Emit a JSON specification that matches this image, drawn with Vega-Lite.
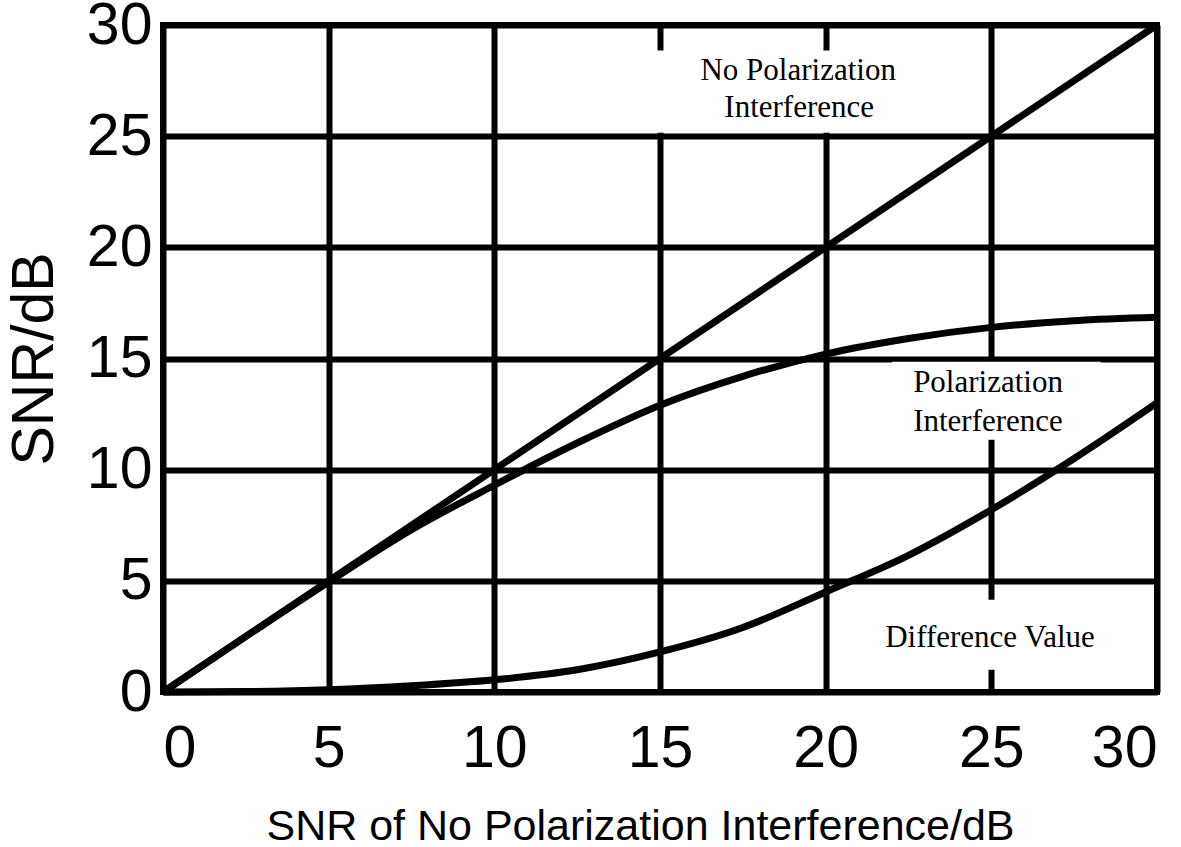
{
  "$schema": "https://vega.github.io/schema/vega-lite/v6.json",
  "autosize": "none",
  "width": 994,
  "height": 667,
  "padding": {"left": 163, "top": 25, "right": 24, "bottom": 155},
  "background": "white",
  "config": {
    "view": {"stroke": "black", "strokeWidth": 6},
    "axis": {
      "grid": true, "gridColor": "black", "gridWidth": 6, "gridOpacity": 1,
      "domain": false, "ticks": false, "tickSize": 0,
      "labelFont": "Liberation Sans", "labelFontSize": 59, "labelColor": "black",
      "titleFont": "Liberation Sans", "titleColor": "black", "titleFontWeight": "normal"
    }
  },
  "datasets": {
    "curves": [
      {"snr": 0, "value": 0, "series": "No Polarization Interference"},
      {"snr": 30, "value": 30, "series": "No Polarization Interference"},
      {"snr": 0, "value": 0, "series": "Polarization Interference"},
      {"snr": 2.5, "value": 2.5, "series": "Polarization Interference"},
      {"snr": 5, "value": 4.95, "series": "Polarization Interference"},
      {"snr": 7.5, "value": 7.3, "series": "Polarization Interference"},
      {"snr": 10, "value": 9.3, "series": "Polarization Interference"},
      {"snr": 12.5, "value": 11.2, "series": "Polarization Interference"},
      {"snr": 15, "value": 12.9, "series": "Polarization Interference"},
      {"snr": 17.5, "value": 14.2, "series": "Polarization Interference"},
      {"snr": 20, "value": 15.2, "series": "Polarization Interference"},
      {"snr": 22.5, "value": 15.9, "series": "Polarization Interference"},
      {"snr": 25, "value": 16.4, "series": "Polarization Interference"},
      {"snr": 27.5, "value": 16.7, "series": "Polarization Interference"},
      {"snr": 30, "value": 16.85, "series": "Polarization Interference"},
      {"snr": 0, "value": 0, "series": "Difference Value"},
      {"snr": 2.5, "value": 0.02, "series": "Difference Value"},
      {"snr": 5, "value": 0.1, "series": "Difference Value"},
      {"snr": 7.5, "value": 0.28, "series": "Difference Value"},
      {"snr": 10, "value": 0.55, "series": "Difference Value"},
      {"snr": 12.5, "value": 1.0, "series": "Difference Value"},
      {"snr": 15, "value": 1.8, "series": "Difference Value"},
      {"snr": 17.5, "value": 2.9, "series": "Difference Value"},
      {"snr": 20, "value": 4.5, "series": "Difference Value"},
      {"snr": 22.5, "value": 6.15, "series": "Difference Value"},
      {"snr": 25, "value": 8.2, "series": "Difference Value"},
      {"snr": 27.5, "value": 10.5, "series": "Difference Value"},
      {"snr": 30, "value": 13.0, "series": "Difference Value"}
    ],
    "boxes": [
      {"x1": 14.0, "x2": 22.0, "y1": 25.15, "y2": 28.85},
      {"x1": 22.0, "x2": 28.3, "y1": 11.35, "y2": 14.85},
      {"x1": 21.5, "x2": 29.0, "y1": 1.0, "y2": 4.15}
    ],
    "labels": [
      {"x": 19.17, "y": 27.93, "text": "No Polarization"},
      {"x": 19.2, "y": 26.27, "text": "Interference"},
      {"x": 24.9, "y": 13.9, "text": "Polarization"},
      {"x": 24.9, "y": 12.15, "text": "Interference"},
      {"x": 24.96, "y": 2.43, "text": "Difference Value"}
    ]
  },
  "layer": [
    {
      "data": {"name": "boxes"},
      "mark": {"type": "rect", "fill": "white", "stroke": null},
      "encoding": {
        "x": {"field": "x1", "type": "quantitative",
              "scale": {"domain": [0, 30], "nice": false},
              "axis": {"values": [0, 5, 10, 15, 20, 25, 30], "labelPadding": 27,
                       "title": "SNR of No Polarization Interference/dB",
                       "titleFontSize": 43, "titlePadding": 27, "titleX": 477}},
        "x2": {"field": "x2"},
        "y": {"field": "y1", "type": "quantitative",
              "scale": {"domain": [0, 30], "nice": false},
              "axis": {"values": [0, 5, 10, 15, 20, 25, 30], "labelPadding": 11,
                       "title": "SNR/dB", "titleFontSize": 59, "titlePadding": 22}},
        "y2": {"field": "y2"}
      }
    },
    {
      "data": {"name": "curves"},
      "mark": {"type": "line", "strokeWidth": 7, "interpolate": "monotone", "color": "black"},
      "encoding": {
        "x": {"field": "snr", "type": "quantitative"},
        "y": {"field": "value", "type": "quantitative"},
        "detail": {"field": "series", "type": "nominal"}
      }
    },
    {
      "data": {"name": "labels"},
      "mark": {"type": "text", "font": "Liberation Serif", "fontSize": 31, "color": "black", "align": "center", "baseline": "middle"},
      "encoding": {
        "x": {"field": "x", "type": "quantitative"},
        "y": {"field": "y", "type": "quantitative"},
        "text": {"field": "text"}
      }
    }
  ]
}
